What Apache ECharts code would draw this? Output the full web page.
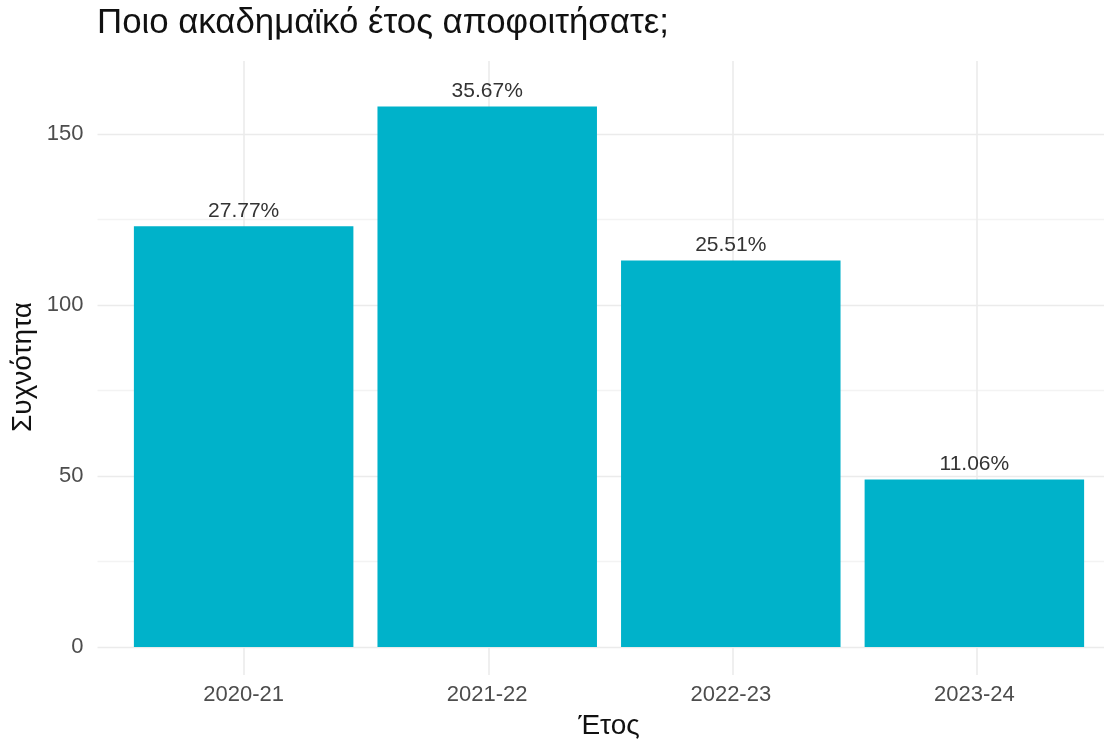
<!DOCTYPE html>
<html>
<head>
<meta charset="utf-8">
<script src="https://cdn.jsdelivr.net/npm/echarts@6/dist/echarts.min.js"></script>
<style>
html,body{margin:0;padding:0;background:#fff;}
#chart{width:1107px;height:744px;}
</style>
</head>
<body>
<div id="chart"></div>
<script>
const categories = ['2020-21', '2021-22', '2022-23', '2023-24'];
const counts = [123, 158, 113, 49];
const percentLabels = ['27.77%', '35.67%', '25.51%', '11.06%'];
const titleText = 'Ποιο ακαδημαϊκό έτος αποφοιτήσατε;';
const xTitle = 'Έτος';
const yTitle = 'Συχνότητα';

const FONT = '"Liberation Sans", Arial, Helvetica, sans-serif';
const chart = echarts.init(document.getElementById('chart'), null, {renderer: 'canvas'});

const GRID_LEFT = 97.5, CHART_W = 1107, UNIT = 244.3;
const xMin = -0.6, xStep = 0.2;
const xMax = xMin + (CHART_W - GRID_LEFT) / UNIT;
const T = 'rgba(0,0,0,0)';
const vColors = [T, T, T, '#ebebeb', T];
const isInt = v => Math.abs(v - Math.round(v)) < 1e-6;

const option = {
  backgroundColor: '#ffffff',
  animation: false,
  title: {
    text: titleText,
    left: 97, top: 6, padding: 0,
    textStyle: {fontFamily: FONT, fontSize: 34.8, fontWeight: 'normal', color: '#111'}
  },
  grid: [
    {left: GRID_LEFT, right: 0, top: 61, bottom: 69},
    {left: GRID_LEFT, right: 0, top: 61, bottom: 97}
  ],
  xAxis: [
    {
      gridIndex: 0, type: 'value', min: xMin, max: xMax, interval: xStep,
      axisLine: {show: false}, axisTick: {show: false}, axisLabel: {show: false},
      splitLine: {show: true, lineStyle: {color: vColors, width: 1.6}}
    },
    {
      gridIndex: 1, type: 'value', min: xMin, max: xMax, interval: xStep,
      axisLine: {show: false}, axisTick: {show: false},
      splitLine: {show: false},
      axisLabel: {
        margin: 37, fontFamily: FONT, fontSize: 22, color: '#4d4d4d',
        showMinLabel: true, showMaxLabel: true,
        formatter: v => {
          if (!isInt(v)) return '';
          const i = Math.round(v);
          return (i >= 0 && i < categories.length) ? categories[i] : '';
        }
      }
    }
  ],
  yAxis: [
    {gridIndex: 0, type: 'value', min: 0, max: 1, show: false},
    {
      gridIndex: 1, type: 'value', min: 0, max: 171.3, interval: 25,
      axisLine: {show: false}, axisTick: {show: false},
      axisLabel: {
        margin: 14, fontFamily: FONT, fontSize: 22, color: '#4d4d4d',
        showMaxLabel: false,
        formatter: v => (Math.abs(v % 50) < 1e-6 ? String(v) : '')
      },
      splitLine: {show: true, showMaxLine: false, lineStyle: {color: ['#ebebeb', '#f3f3f3'], width: 1.4}}
    }
  ],
  series: [{
    type: 'bar',
    xAxisIndex: 1, yAxisIndex: 1,
    barWidth: 219.5,
    data: counts.map((v, i) => [i, v]),
    itemStyle: {color: '#00b2ca'},
    label: {
      show: true, position: 'top', distance: 5,
      fontFamily: FONT, fontSize: 21, color: '#333333',
      formatter: p => percentLabels[p.dataIndex]
    }
  }],
  graphic: [
    {
      type: 'text', x: 609, y: 726,
      style: {text: xTitle, fontFamily: FONT, fontSize: 28, fill: '#111', textAlign: 'center', textVerticalAlign: 'middle'}
    },
    {
      type: 'text', x: 23, y: 367, rotation: Math.PI / 2,
      style: {text: yTitle, fontFamily: FONT, fontSize: 28, fill: '#111', textAlign: 'center', textVerticalAlign: 'middle'}
    }
  ]
};
chart.setOption(option);
</script>
</body>
</html>
